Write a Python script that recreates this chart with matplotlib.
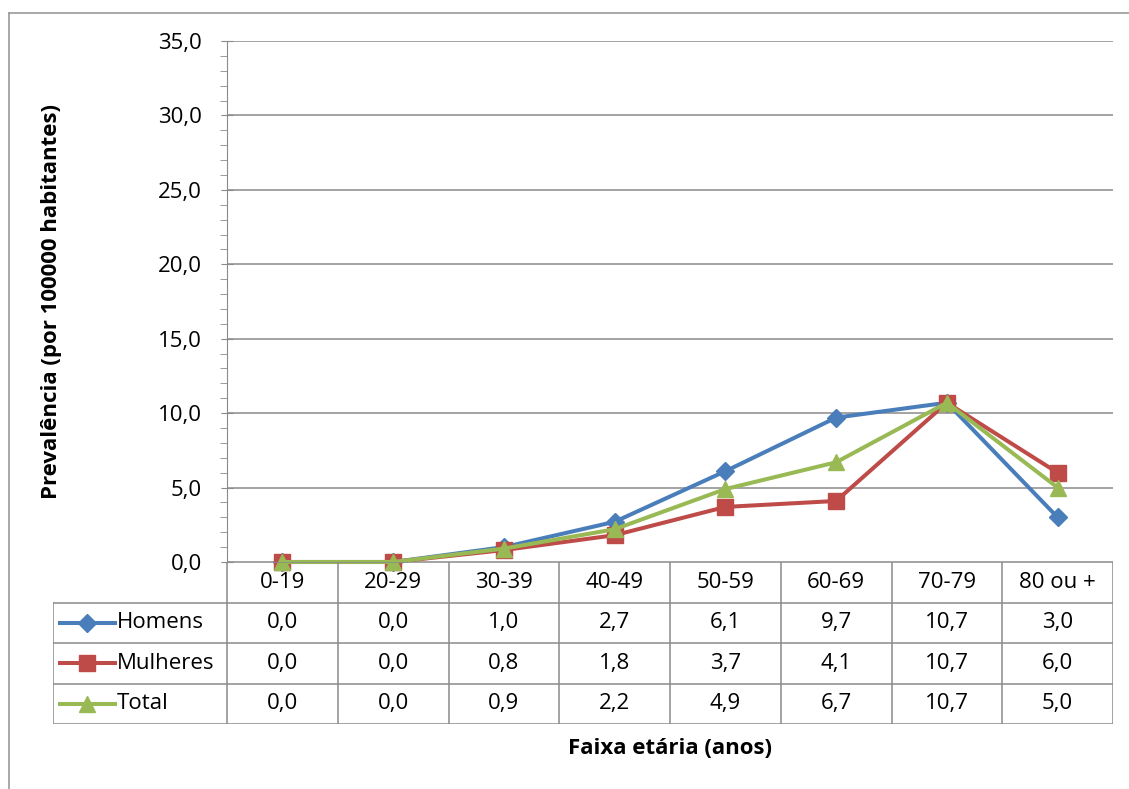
"""Prevalência por faixa etária: gráfico de linhas com tabela de dados abaixo."""
import matplotlib

matplotlib.use("Agg")
import matplotlib.pyplot as plt
from matplotlib.lines import Line2D

plt.rcParams["font.family"] = ["Open Sans", "DejaVu Sans"]

faixas = ["0-19", "20-29", "30-39", "40-49", "50-59", "60-69", "70-79", "80 ou +"]
homens = [0.0, 0.0, 1.0, 2.7, 6.1, 9.7, 10.7, 3.0]
mulheres = [0.0, 0.0, 0.8, 1.8, 3.7, 4.1, 10.7, 6.0]
total = [0.0, 0.0, 0.9, 2.2, 4.9, 6.7, 10.7, 5.0]

series = [
    ("Homens", homens, "#4a7ebb", "D", 9),
    ("Mulheres", mulheres, "#be4b48", "s", 11),
    ("Total", total, "#98b954", "^", 11),
]

W, H = 1129, 789
GRID = "#8a8a8a"
FS = 16


def fx(px):
    return px / W


def fy(py):
    return 1 - py / H


def fmt(v):
    return f"{v:.1f}".replace(".", ",")


fig = plt.figure(figsize=(W / 100, H / 100), dpi=100)

# moldura do gráfico (só topo e esquerda aparecem)
fig.add_artist(Line2D([fx(9), 1], [fy(13), fy(13)], color="#9a9a9a", lw=1.2))
fig.add_artist(Line2D([fx(9), fx(9)], [fy(13), 0], color="#9a9a9a", lw=1.2))

# área do gráfico
left, right, top, bottom = 227, 1113, 41, 562
ax = fig.add_axes([fx(left), fy(bottom), fx(right - left), fy(top) - fy(bottom)])
n = len(faixas)
x = list(range(n))
ax.set_xlim(-0.5, n - 0.5)
ax.set_ylim(0, 35)
ax.set_yticks([0, 5, 10, 15, 20, 25, 30, 35])
ax.set_yticks([v for v in range(36) if v % 5], minor=True)
ax.set_yticklabels([fmt(v) for v in ax.get_yticks()], fontsize=FS)
ax.tick_params(axis="y", which="major", length=8, color=GRID, pad=14, direction="inout")
ax.tick_params(axis="y", which="minor", length=5, color=GRID, direction="out")
ax.set_xticks([])
ax.grid(axis="y", color=GRID, lw=1.1)
ax.set_axisbelow(True)
for s in ["top", "right", "bottom"]:
    ax.spines[s].set_visible(False)
ax.spines["left"].set_color(GRID)

for nome, vals, cor, mk, ms in series:
    ax.plot(x, vals, color=cor, lw=2.9, marker=mk, ms=ms, mec=cor, mfc=cor,
            clip_on=False, zorder=3)

ax.set_ylabel("Prevalência (por 100000 habitantes)", fontsize=16,
              fontweight="bold")
ax.yaxis.set_label_coords((62 - left) / (right - left), 0.5)

# tabela de dados
row_edges = [562, 602, 643, 684, 724]
tab_left = 53
col_w = (right - left) / n
tx0 = -0.5 - (left - tab_left) / col_w
tab = fig.add_axes([fx(tab_left), fy(row_edges[-1]), fx(right - tab_left),
                    fy(row_edges[0]) - fy(row_edges[-1])])
tab.set_xlim(tx0, n - 0.5)
tab.set_ylim(len(row_edges) - 1, 0)
tab.axis("off")

lk = dict(color=GRID, lw=1.1)
# linhas horizontais
tab.plot([-0.5, n - 0.5], [0, 0], **lk)
for r in range(1, len(row_edges)):
    tab.plot([tx0, n - 0.5], [r, r], **lk)
# linhas verticais
for c in range(n + 1):
    tab.plot([c - 0.5, c - 0.5], [0, len(row_edges) - 1], **lk)
tab.plot([tx0, tx0], [1, len(row_edges) - 1], **lk)

for i, f in enumerate(faixas):
    tab.text(i, 0.5, f, ha="center", va="center", fontsize=FS)

for r, (nome, vals, cor, mk, ms) in enumerate(series, start=1):
    ly = r + 0.5
    tab.plot([tx0 + 0.06, tx0 + 0.56], [ly, ly], color=cor, lw=2.9)
    tab.plot([tx0 + 0.31], [ly], marker=mk, ms=ms, color=cor)
    tab.text(tx0 + 0.575, ly, nome, ha="left", va="center", fontsize=FS)
    for i, v in enumerate(vals):
        tab.text(i, ly, fmt(v), ha="center", va="center", fontsize=FS)

fig.text(fx(670), fy(748), "Faixa etária (anos)", ha="center", va="center",
         fontsize=16, fontweight="bold")

fig.savefig("out.png", dpi=100)
